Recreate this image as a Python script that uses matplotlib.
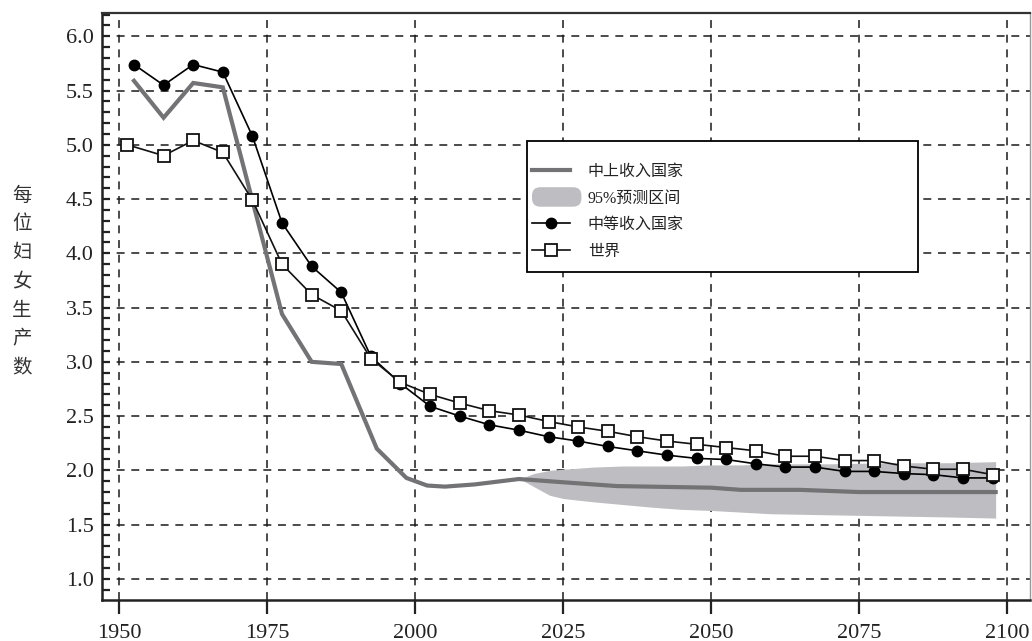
import matplotlib
matplotlib.use("Agg")
import matplotlib.pyplot as plt
from matplotlib.lines import Line2D
from matplotlib.patches import Patch, FancyBboxPatch, Rectangle
from matplotlib.legend_handler import HandlerPatch
from matplotlib.ticker import MultipleLocator

plt.rcParams['font.family'] = ['Liberation Serif', 'Noto Sans CJK SC', 'DejaVu Sans']

# ---- data ----
mid_years = [1952.5, 1957.5, 1962.5, 1967.5, 1972.5, 1977.5, 1982.5, 1987.5, 1992.5, 1997.5,
             2002.5, 2007.5, 2012.5, 2017.5, 2022.5, 2027.5, 2032.5, 2037.5, 2042.5, 2047.5,
             2052.5, 2057.5, 2062.5, 2067.5, 2072.5, 2077.5, 2082.5, 2087.5, 2092.5, 2097.5]
mid_values = [5.74, 5.55, 5.74, 5.67, 5.08, 4.28, 3.88, 3.64, 3.05, 2.80,
              2.59, 2.50, 2.42, 2.37, 2.31, 2.27, 2.22, 2.18, 2.14, 2.11,
              2.10, 2.06, 2.03, 2.03, 1.99, 1.99, 1.97, 1.96, 1.93, 1.93]

world_years = [1951.4, 1957.5, 1962.5, 1967.5, 1972.5, 1977.5, 1982.5, 1987.5, 1992.5, 1997.5,
               2002.5, 2007.5, 2012.5, 2017.5, 2022.5, 2027.5, 2032.5, 2037.5, 2042.5, 2047.5,
               2052.5, 2057.5, 2062.5, 2067.5, 2072.5, 2077.5, 2082.5, 2087.5, 2092.5, 2097.5]
world_values = [5.00, 4.90, 5.04, 4.93, 4.49, 3.90, 3.62, 3.47, 3.03, 2.81,
                2.70, 2.62, 2.55, 2.51, 2.45, 2.40, 2.36, 2.31, 2.27, 2.24,
                2.21, 2.18, 2.13, 2.13, 2.09, 2.09, 2.04, 2.01, 2.01, 1.96]

umi_years = [1952.5, 1957.5, 1962.5, 1967.5, 1977.5, 1982.5, 1987.5, 1993.5, 1998.5, 2002.0,
             2005.0, 2010.0, 2017.5, 2025.0, 2034.0, 2050.0, 2055.0, 2065.0, 2075.0, 2098.0]
umi_values = [5.59, 5.25, 5.57, 5.53, 3.44, 3.00, 2.98, 2.20, 1.93, 1.86,
              1.85, 1.87, 1.92, 1.89, 1.855, 1.84, 1.82, 1.82, 1.80, 1.80]

band_years = [2017.7, 2020.0, 2022.7, 2025.0, 2030.0, 2035.0, 2040.0, 2045.0, 2050.0,
              2055.0, 2060.0, 2070.0, 2080.0, 2090.0, 2098.0]
band_upper = [1.92, 1.97, 2.00, 2.01, 2.03, 2.04, 2.04, 2.04, 2.05,
              2.05, 2.06, 2.06, 2.07, 2.07, 2.08]
band_lower = [1.92, 1.85, 1.77, 1.74, 1.71, 1.685, 1.66, 1.64, 1.63,
              1.615, 1.60, 1.59, 1.58, 1.57, 1.56]

x_ticks = [1950, 1975, 2000, 2025, 2050, 2075, 2100]
y_ticks = [1.0, 1.5, 2.0, 2.5, 3.0, 3.5, 4.0, 4.5, 5.0, 5.5, 6.0]
ylabel_chars = list("每位妇女生产数")
legend_labels = ["中上收入国家", "95%预测区间", "中等收入国家", "世界"]

# ---- figure ----
W, H = 1032, 641
fig = plt.figure(figsize=(W/100, H/100), dpi=100)
ax = fig.add_axes([102/W, 41/H, 928/W, 587/H])

band_color = "#bebec2"
umi_color = "#737376"

ax.fill_between(band_years, band_lower, band_upper, color=band_color, lw=0, zorder=2)
ax.plot(umi_years, umi_values, color=umi_color, lw=3.0, zorder=3, solid_joinstyle='miter')
ax.plot(mid_years, mid_values, color="black", lw=1.2, marker='o', markersize=7.5,
        markerfacecolor='black', markeredgecolor='black', zorder=4)
ax.plot(world_years, world_values, color="#111111", lw=1.2, marker='s', markersize=8,
        markerfacecolor='white', markeredgecolor='#111111', markeredgewidth=1.3, zorder=5)

ax.set_xlim(1947.1, 2103.8)
ax.set_ylim(0.805, 6.215)
ax.set_xticks(x_ticks)
ax.set_xticklabels([str(t) for t in x_ticks])
ax.set_yticks(y_ticks)
ax.set_yticklabels([f"{t:.1f}" for t in y_ticks])
ax.yaxis.set_minor_locator(MultipleLocator(0.1))

ax.grid(True, which='major', color='#1a1a1a', lw=1.1, linestyle=(0, (5.2, 4.4)), zorder=1)
ax.set_axisbelow(True)

ax.tick_params(axis='x', which='major', direction='out', length=10, width=1.6,
               labelsize=16, pad=7, colors='#222222')
ax.tick_params(axis='y', which='both', direction='in', length=6, width=1.6,
               labelsize=16, pad=6, colors='#222222')
ax.tick_params(axis='x', which='minor', bottom=False)

for s in ['left', 'bottom']:
    ax.spines[s].set_linewidth(1.8)
    ax.spines[s].set_color('#222222')
ax.spines['top'].set_linewidth(1.6)
ax.spines['top'].set_color('#333333')
ax.spines['right'].set_linewidth(1.0)
ax.spines['right'].set_color('#999999')

# vertical y-label (one char per line)
y0 = 195
pitch = 28.8
for i, ch in enumerate(ylabel_chars):
    fig.text(22/W, 1 - (y0 + i*pitch)/H, ch, ha='center', va='center',
             fontsize=14, color='#333333', family=['Noto Sans CJK SC'])

# legend box (drawn separately so padding can match)
box = Rectangle((527/W, 1 - 272/H), (918-527)/W, (272-141)/H, transform=fig.transFigure,
                facecolor='white', edgecolor='black', lw=1.3, zorder=6)
fig.patches.append(box)

def make_round_patch(legend, orig_handle, xdescent, ydescent, width, height, fontsize):
    return FancyBboxPatch((-xdescent, -ydescent - 3), width + 8, height + 6,
                          boxstyle="round,pad=0,rounding_size=6")

handles = [
    Line2D([], [], color=umi_color, lw=3.0),
    Patch(facecolor=band_color, edgecolor='none'),
    Line2D([], [], color='black', lw=1.2, marker='o', markersize=7.5),
    Line2D([], [], color='#111111', lw=1.2, marker='s', markersize=8,
           markerfacecolor='white', markeredgewidth=1.3),
]
leg = fig.legend(handles, legend_labels, loc='upper left',
                 bbox_to_anchor=(532/W, 1 - 164/H),
                 frameon=False, fontsize=11.5, handlelength=2.4, handletextpad=1.1,
                 borderpad=0, labelspacing=0.66, borderaxespad=0,
                 handler_map={Patch: HandlerPatch(patch_func=make_round_patch)})
leg.set_zorder(7)
for t in leg.get_texts():
    t.set_color('#222222')
    t.set_family(['Liberation Serif', 'Noto Sans CJK SC'])

fig.savefig("out.png", dpi=100)
